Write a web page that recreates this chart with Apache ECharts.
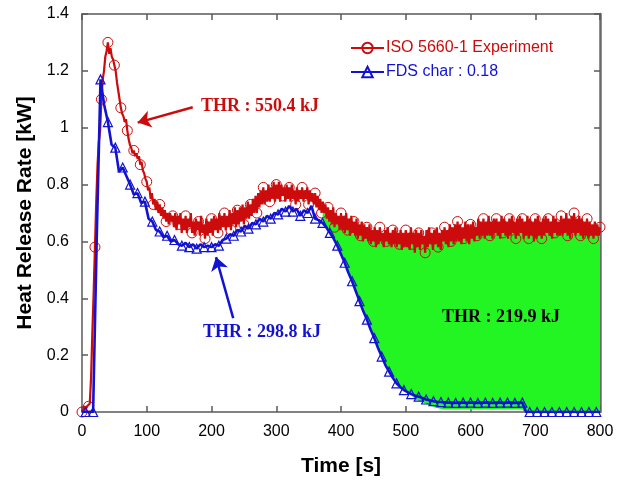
<!DOCTYPE html>
<html>
<head>
<meta charset="utf-8">
<script src="https://cdn.jsdelivr.net/npm/echarts@6/dist/echarts.min.js"></script>
<style>
  html, body { margin: 0; padding: 0; background: #fff; }
  #chart { width: 627px; height: 482px; }
</style>
</head>
<body>
<div id="chart"></div>
<script>
// ISO 5660-1 cone calorimeter measurement, sampled every 2 s (kW)
const expStep = 2;
const expHrr = [
  0.00, 0.01, 0.02, 0.01, 0.02, 0.02, 0.03, 0.12, 0.28, 0.42,
  0.58, 0.74, 0.87, 0.95, 0.99, 1.10, 1.17, 1.20, 1.25, 1.27,
  1.30, 1.26, 1.28, 1.25, 1.24, 1.22, 1.20, 1.16, 1.13, 1.10,
  1.07, 1.05, 1.04, 1.02, 1.03, 0.99, 0.96, 0.94, 0.93, 0.91,
  0.92, 0.90, 0.91, 0.89, 0.90, 0.87, 0.88, 0.85, 0.84, 0.82,
  0.81, 0.78, 0.79, 0.75, 0.77, 0.73, 0.75, 0.71, 0.74, 0.70,
  0.73, 0.69, 0.72, 0.68, 0.71, 0.67, 0.70, 0.66, 0.70, 0.67,
  0.69, 0.65, 0.70, 0.64, 0.69, 0.66, 0.70, 0.63, 0.68, 0.64,
  0.69, 0.63, 0.68, 0.65, 0.70, 0.63, 0.67, 0.62, 0.68, 0.64,
  0.67, 0.62, 0.69, 0.63, 0.66, 0.61, 0.68, 0.62, 0.67, 0.63,
  0.68, 0.62, 0.69, 0.64, 0.68, 0.63, 0.70, 0.64, 0.69, 0.65,
  0.70, 0.64, 0.69, 0.65, 0.71, 0.64, 0.70, 0.66, 0.72, 0.65,
  0.71, 0.66, 0.72, 0.67, 0.73, 0.66, 0.72, 0.68, 0.74, 0.68,
  0.73, 0.69, 0.75, 0.70, 0.76, 0.70, 0.77, 0.72, 0.78, 0.73,
  0.79, 0.73, 0.78, 0.74, 0.80, 0.74, 0.79, 0.75, 0.81, 0.74,
  0.80, 0.75, 0.81, 0.74, 0.80, 0.76, 0.79, 0.74, 0.80, 0.75,
  0.79, 0.74, 0.80, 0.75, 0.78, 0.73, 0.79, 0.74, 0.78, 0.75,
  0.79, 0.74, 0.78, 0.75, 0.79, 0.73, 0.78, 0.74, 0.77, 0.73,
  0.77, 0.72, 0.76, 0.71, 0.75, 0.70, 0.74, 0.70, 0.73, 0.68,
  0.72, 0.67, 0.71, 0.66, 0.72, 0.65, 0.70, 0.66, 0.69, 0.64,
  0.70, 0.64, 0.69, 0.63, 0.70, 0.64, 0.68, 0.62, 0.69, 0.63,
  0.67, 0.62, 0.68, 0.61, 0.66, 0.62, 0.67, 0.60, 0.66, 0.61,
  0.65, 0.60, 0.66, 0.59, 0.64, 0.60, 0.65, 0.58, 0.64, 0.59,
  0.65, 0.60, 0.63, 0.58, 0.64, 0.60, 0.65, 0.59, 0.63, 0.58,
  0.64, 0.59, 0.65, 0.58, 0.63, 0.59, 0.64, 0.57, 0.63, 0.58,
  0.64, 0.58, 0.63, 0.57, 0.65, 0.59, 0.63, 0.56, 0.64, 0.58,
  0.63, 0.57, 0.64, 0.59, 0.62, 0.56, 0.64, 0.58, 0.65, 0.59,
  0.63, 0.57, 0.64, 0.59, 0.65, 0.58, 0.63, 0.57, 0.64, 0.60,
  0.65, 0.59, 0.64, 0.58, 0.66, 0.60, 0.65, 0.59, 0.66, 0.60,
  0.67, 0.60, 0.66, 0.59, 0.65, 0.61, 0.67, 0.60, 0.66, 0.59,
  0.66, 0.61, 0.67, 0.60, 0.65, 0.62, 0.68, 0.61, 0.67, 0.62,
  0.68, 0.61, 0.67, 0.62, 0.69, 0.62, 0.67, 0.61, 0.68, 0.63,
  0.68, 0.62, 0.67, 0.61, 0.69, 0.63, 0.68, 0.62, 0.67, 0.61,
  0.68, 0.62, 0.69, 0.63, 0.67, 0.61, 0.68, 0.62, 0.69, 0.63,
  0.68, 0.61, 0.67, 0.62, 0.69, 0.61, 0.68, 0.62, 0.67, 0.60,
  0.68, 0.61, 0.69, 0.62, 0.67, 0.61, 0.68, 0.62, 0.69, 0.63,
  0.68, 0.62, 0.67, 0.61, 0.69, 0.63, 0.68, 0.62, 0.67, 0.62,
  0.69, 0.62, 0.68, 0.63, 0.70, 0.62, 0.68, 0.61, 0.69, 0.63,
  0.70, 0.62, 0.68, 0.63, 0.69, 0.62, 0.68, 0.61, 0.67, 0.62,
  0.68, 0.61, 0.67, 0.62, 0.66, 0.61, 0.67, 0.62, 0.66, 0.62,
  0.65
];

// FDS prediction (char yield 0.18), 141 outputs over 0-800 s (kW)
const fdsStep = 800 / 140;
const fdsHrr = [
  0, 0, 0, 0, 0.62, 1.17, 1.08, 1.02, 0.94, 0.93,
  0.845, 0.86, 0.83, 0.80, 0.765, 0.77, 0.735, 0.74, 0.68, 0.67,
  0.64, 0.635, 0.615, 0.62, 0.60, 0.605, 0.59, 0.585, 0.595, 0.58,
  0.59, 0.575, 0.59, 0.58, 0.585, 0.58, 0.59, 0.585, 0.605, 0.61,
  0.625, 0.62, 0.64, 0.635, 0.655, 0.645, 0.665, 0.66, 0.68, 0.67,
  0.69, 0.68, 0.70, 0.695, 0.715, 0.705, 0.725, 0.705, 0.715, 0.69,
  0.71, 0.70, 0.725, 0.68, 0.675, 0.665, 0.65, 0.63, 0.61, 0.585,
  0.555, 0.525, 0.49, 0.46, 0.425, 0.39, 0.355, 0.325, 0.29, 0.26,
  0.225, 0.195, 0.165, 0.142, 0.12, 0.101, 0.088, 0.077, 0.07, 0.063,
  0.058, 0.054, 0.049, 0.044, 0.041, 0.038, 0.036, 0.035, 0.034, 0.033,
  0.033, 0.032, 0.033, 0.033, 0.032, 0.033, 0.033, 0.032, 0.033, 0.033,
  0.033, 0.032, 0.033, 0.033, 0.032, 0.033, 0.033, 0.032, 0.033, 0.033,
  0, 0, 0, 0, 0, 0, 0, 0, 0, 0,
  0, 0, 0, 0, 0, 0, 0, 0, 0, 0,
  0
];

// Shaded difference between the two curves (THR 219.9 kJ)
const fillFrom = 371;          // s, where the prediction leaves the measurement
const fillFloorUntil = 503;    // s, floor follows the FDS curve up to here
const fillFloorTail = [[515, 0.045], [530, 0.030], [545, 0.017], [557, 0.009], [680, 0.009], [683, 0], [800, 0]];

// Annotation labels and arrows ([from, to] in data units)
const thrExp = { text: 'THR : 550.4 kJ', arrow: [[171, 1.072], [86, 1.018]] };
const thrFds = { text: 'THR : 298.8 kJ', arrow: [[233.5, 0.33], [207, 0.545]] };
const thrDiff = { text: 'THR : 219.9 kJ' };

const seriesNames = ['ISO 5660-1 Experiment', 'FDS char : 0.18'];
const timeRange = [0, 800, 100];
const hrrRange = [0, 1.4, 0.2];

const RED = '#cc0c0c';
const BLUE = '#1212d2';
const GREEN = '#22f522';
const AXIS = '#5a5a5a';

const expPoints = expHrr.map((v, i) => [i * expStep, v]);
const fdsPoints = fdsHrr.map((v, i) => [i * fdsStep, v]);

const chart = echarts.init(document.getElementById('chart'), null, { renderer: 'canvas' });

const axisCommon = {
  type: 'value',
  axisLine: { show: true, onZero: false, lineStyle: { color: AXIS, width: 1.5 } },
  axisTick: { show: true, inside: true, length: 6, lineStyle: { color: AXIS, width: 1.5 } },
  splitLine: { show: false }
};

chart.setOption({
  animation: false,
  backgroundColor: '#fff',
  grid: { left: 82, right: 27, top: 14, bottom: 70, containLabel: false },
  legend: {
    orient: 'vertical',
    left: 350,
    top: 40,
    padding: 0,
    itemWidth: 33,
    itemHeight: 13,
    itemGap: 8,
    selectedMode: false,
    textStyle: { fontFamily: 'Liberation Sans', fontSize: 16, lineHeight: 16, padding: [0, 0, 0, -3] },
    data: [
      { name: seriesNames[0], textStyle: { color: RED } },
      { name: seriesNames[1], textStyle: { color: BLUE } }
    ]
  },
  xAxis: [
    Object.assign({}, axisCommon, {
      min: timeRange[0], max: timeRange[1], interval: timeRange[2],
      position: 'bottom',
      axisLabel: { color: '#000', fontFamily: 'Liberation Sans', fontSize: 16, margin: 12 },
      name: 'Time [s]',
      nameLocation: 'middle',
      nameGap: 44,
      nameTextStyle: { color: '#000', fontFamily: 'Liberation Sans', fontSize: 21, fontWeight: 'bold' }
    }),
    Object.assign({}, axisCommon, {
      min: timeRange[0], max: timeRange[1], interval: timeRange[2],
      position: 'top',
      axisLabel: { show: false }
    })
  ],
  yAxis: [
    Object.assign({}, axisCommon, {
      min: hrrRange[0], max: hrrRange[1], interval: hrrRange[2],
      position: 'left',
      axisLabel: { color: '#000', fontFamily: 'Liberation Sans', fontSize: 16, margin: 13 },
      name: 'Heat Release Rate [kW]',
      nameLocation: 'middle',
      nameGap: 46,
      nameTextStyle: { color: '#000', fontFamily: 'Liberation Sans', fontSize: 21, fontWeight: 'bold' }
    }),
    Object.assign({}, axisCommon, {
      min: hrrRange[0], max: hrrRange[1], interval: hrrRange[2],
      position: 'right',
      axisLine: { show: true, onZero: false, lineStyle: { color: '#6a6a6a', width: 2.5 } },
      axisLabel: { show: false }
    })
  ],
  series: [
    {
      name: 'difference',
      type: 'custom',
      coordinateSystem: 'cartesian2d',
      xAxisIndex: 0,
      yAxisIndex: 0,
      silent: true,
      clip: true,
      z: 1,
      data: [[fillFrom, 0]],
      renderItem: function (params, api) {
        const top = expPoints.filter(p => p[0] >= fillFrom);
        const floor = fdsPoints
          .filter(p => p[0] >= fillFrom - 1 && p[0] <= fillFloorUntil)
          .concat(fillFloorTail);
        const outline = [floor[0]].concat(top, floor.slice().reverse());
        return {
          type: 'polygon',
          shape: { points: outline.map(p => api.coord(p)) },
          style: { fill: GREEN, stroke: null }
        };
      }
    },
    {
      name: seriesNames[0],
      type: 'line',
      xAxisIndex: 0,
      yAxisIndex: 0,
      z: 3,
      data: expPoints,
      showAllSymbol: true,
      symbol: 'circle',
      symbolSize: function (v, p) { return p.dataIndex % 5 === 0 ? 10 : 0; },
      itemStyle: { color: 'transparent', borderColor: RED, borderWidth: 1 },
      lineStyle: { color: RED, width: 2.2 },
      emphasis: { disabled: true },
      markLine: {
        silent: true,
        symbol: ['none', 'arrow'],
        symbolSize: 13,
        label: { show: false },
        lineStyle: { color: RED, width: 2.5, type: 'solid' },
        data: [[{ coord: thrExp.arrow[0] }, { coord: thrExp.arrow[1] }]]
      }
    },
    {
      name: seriesNames[1],
      type: 'line',
      xAxisIndex: 0,
      yAxisIndex: 0,
      z: 4,
      data: fdsPoints,
      showAllSymbol: true,
      symbol: 'triangle',
      symbolSize: function (v, p) { return p.dataIndex % 2 === 1 ? 9 : 0; },
      itemStyle: { color: 'transparent', borderColor: BLUE, borderWidth: 1.2 },
      lineStyle: { color: BLUE, width: 2.6 },
      emphasis: { disabled: true },
      markLine: {
        silent: true,
        symbol: ['none', 'arrow'],
        symbolSize: 13,
        label: { show: false },
        lineStyle: { color: BLUE, width: 2.5, type: 'solid' },
        data: [[{ coord: thrFds.arrow[0] }, { coord: thrFds.arrow[1] }]]
      }
    }
  ],
  graphic: [
    {
      type: 'text', x: 201, y: 106, z: 10,
      style: { text: thrExp.text, fill: RED, font: 'bold 18px "Liberation Serif"', verticalAlign: 'middle', align: 'left' }
    },
    {
      type: 'text', x: 203, y: 332, z: 10,
      style: { text: thrFds.text, fill: BLUE, font: 'bold 18px "Liberation Serif"', verticalAlign: 'middle', align: 'left' }
    },
    {
      type: 'text', x: 442, y: 317, z: 10,
      style: { text: thrDiff.text, fill: '#000', font: 'bold 18px "Liberation Serif"', verticalAlign: 'middle', align: 'left' }
    }
  ]
});
</script>
</body>
</html>
